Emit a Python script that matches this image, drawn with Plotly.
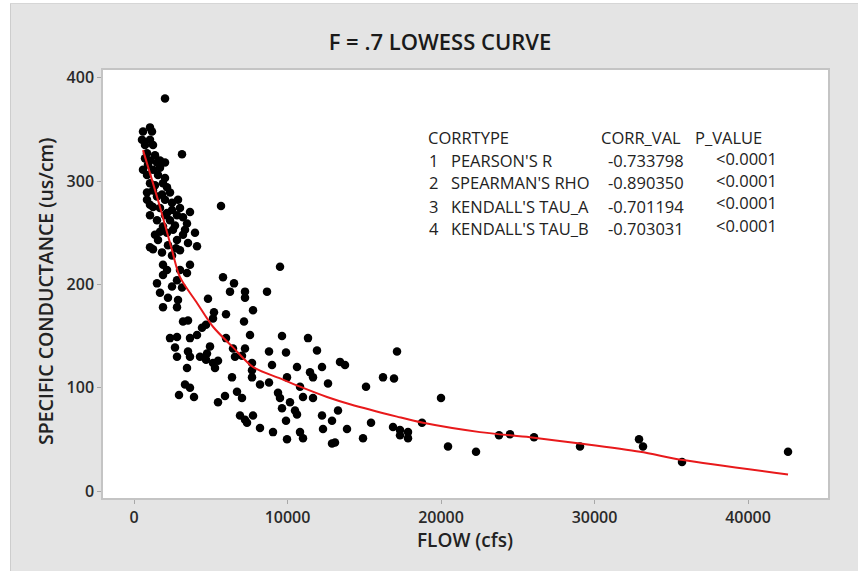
import plotly.graph_objects as go

# ---- scatter data: FLOW (cfs) vs SPECIFIC CONDUCTANCE (us/cm) ----
flow = [
    2020, 1042, 586, 1173, 521, 1042, 1238, 3127, 847, 1042, 1694, 2020, 586, 1238, 847, 1564,
    2020, 1042, 2150, 1238, 2345, 847, 1498, 847, 2020, 2867, 2476, 1238, 1694, 2997, 5668, 1042,
    2150, 2801, 3192, 1498, 2345, 3453, 1889, 2541, 1368, 2150, 3974, 1564, 2801, 3518, 1042, 1238,
    1824, 2476, 4104,
    717, 1368, 912, 1694, 1368, 1824, 1042, 2020, 2671, 1694, 2215, 2997, 3323, 3648, 717, 1498,
    1889, 2476, 3192, 2736,
    3648, 1889, 2150, 1889, 2997, 3453, 2801, 1498, 2476, 3127, 1694, 2215, 2867, 1889, 2801, 5798,
    6515, 6254, 7232, 7232, 8665, 9512, 4821, 7753, 5994, 5212, 5147, 4691, 4430, 7167, 3192, 3518,
    2345, 2801, 3648, 4104, 2671, 4951, 5994, 7557, 9642, 11336, 2801, 3518, 3648, 4300, 4756, 4691,
    5147, 5473, 5277, 6450, 7232, 6580, 7036, 8795, 9903, 11922, 3453, 7688, 7688, 8991, 10619, 12248,
    13421, 13747, 11466, 11662, 9968, 7688, 6385, 12639, 8209, 8795, 10815, 3323, 3648, 2932, 3909, 5929,
    6710, 7036, 5473, 9382, 9512, 9642, 10163, 10489, 10619, 11010, 11662, 12248, 12900, 13291, 13877, 6906,
    7232, 7362, 7753, 8209, 9056, 9903, 9968, 10815, 11010, 12900, 13095, 17134, 16222, 16939, 15115, 15441,
    16874, 17330, 17851, 17330, 17851, 14919, 20001, 18763, 20457, 22281, 23780, 24496, 26060, 29057, 12313,
    32901, 33161, 35702, 42608,
]
conductance = [
    380, 352, 348, 348, 340, 340, 335, 326, 327, 320, 320, 318, 311, 311, 306, 306,
    303, 298, 294, 291, 289, 289, 285, 282, 282, 282, 279, 275, 274, 274, 276, 267,
    269, 267, 265, 262, 262, 259, 256, 253, 248, 250, 250, 243, 243, 240, 236, 234,
    231, 228, 237,
    335, 325, 316, 313, 296, 287, 277, 267, 257, 251, 238, 233, 253, 270, 322, 318,
    298, 272, 248, 235,
    219, 219, 214, 209, 214, 211, 204, 201, 198, 197, 192, 187, 185, 178, 178, 207,
    201, 193, 193, 187, 193, 217, 186, 175, 171, 173, 167, 161, 158, 164, 164, 165,
    148, 149, 148, 151, 139, 140, 148, 151, 150, 148, 130, 135, 130, 130, 133, 127,
    124, 126, 119, 138, 138, 130, 131, 135, 134, 136, 119, 124, 117, 122, 120, 120,
    125, 122, 115, 110, 110, 110, 110, 104, 103, 105, 101, 103, 100, 93, 91, 92,
    96, 90, 86, 95, 90, 80, 86, 78, 74, 91, 90, 73, 68, 78, 60, 73,
    69, 66, 73, 61, 57, 68, 50, 57, 51, 46, 47, 135, 110, 109, 101, 66,
    62, 59, 57, 54, 51, 51, 90, 66, 43, 38, 54, 55, 52, 43, 60,
    50, 43, 28, 38,
]

# ---- LOWESS curve (f = 0.7) ----
lowess_flow = [586, 1694, 2476, 2997, 4104, 5147, 6450, 7753, 9512, 10815, 12574, 14072,
               17134, 18828, 22542, 25799, 29057, 32966, 35767, 42608]
lowess_cond = [330, 275, 233, 207, 182, 159, 139, 120, 109, 101, 91, 84,
               72, 66, 57, 52, 46, 38, 30, 16]

# ---- correlation table ----
corr_index = ["1", "2", "3", "4"]
corr_types = ["PEARSON'S R", "SPEARMAN'S RHO", "KENDALL'S TAU_A", "KENDALL'S TAU_B"]
corr_vals = ["-0.733798", "-0.890350", "-0.701194", "-0.703031"]
p_values = ["<0.0001", "<0.0001", "<0.0001", "<0.0001"]

x_ticks = [0, 10000, 20000, 30000, 40000]
y_ticks = [0, 100, 200, 300, 400]

FONT = "Segoe UI, Open Sans, sans-serif"
TXT = "#222222"

fig = go.Figure()
fig.add_trace(go.Scatter(
    x=flow, y=conductance, mode="markers",
    marker=dict(color="black", size=8.5, line=dict(width=0)),
    showlegend=False, hoverinfo="x+y",
))
fig.add_trace(go.Scatter(
    x=lowess_flow, y=lowess_cond, mode="lines",
    line=dict(color="#e8191b", width=2, shape="spline", smoothing=0.8),
    showlegend=False,
))

L, R, T, B = 103, 30, 70, 73
PW, PH = 858 - L - R, 571 - T - B

def px_to_paper_x(px):
    return (px - L) / PW

def px_to_paper_y(py):
    return (571 - B - py) / PH

annotations = []
# table header
annotations.append(dict(text="CORRTYPE", x=px_to_paper_x(426), y=px_to_paper_y(137),
                        xanchor="left", yanchor="middle"))
annotations.append(dict(text="CORR_VAL", x=px_to_paper_x(599), y=px_to_paper_y(137),
                        xanchor="left", yanchor="middle"))
annotations.append(dict(text="P_VALUE", x=px_to_paper_x(693), y=px_to_paper_y(137),
                        xanchor="left", yanchor="middle"))
row_y = [160, 183, 206, 228]
p_y = [158, 180, 203, 225]
for i in range(4):
    annotations.append(dict(text=corr_index[i], x=px_to_paper_x(427), y=px_to_paper_y(row_y[i]),
                            xanchor="left", yanchor="middle"))
    annotations.append(dict(text=corr_types[i], x=px_to_paper_x(449), y=px_to_paper_y(row_y[i]),
                            xanchor="left", yanchor="middle"))
    annotations.append(dict(text=corr_vals[i], x=px_to_paper_x(686), y=px_to_paper_y(row_y[i]),
                            xanchor="right", yanchor="middle"))
    annotations.append(dict(text=p_values[i], x=px_to_paper_x(779), y=px_to_paper_y(p_y[i]),
                            xanchor="right", yanchor="middle"))
for a in annotations:
    a.update(xref="paper", yref="paper", showarrow=False,
             font=dict(family=FONT, size=16.5, color=TXT))

# axis titles
annotations.append(dict(text="FLOW (cfs)", x=px_to_paper_x(465), y=px_to_paper_y(540),
                        xref="paper", yref="paper", showarrow=False,
                        xanchor="center", yanchor="middle",
                        font=dict(family=FONT, size=19, color=TXT, weight=600)))
annotations.append(dict(text="SPECIFIC CONDUCTANCE (us/cm)", x=px_to_paper_x(45), y=px_to_paper_y(292),
                        xref="paper", yref="paper", showarrow=False, textangle=-90,
                        xanchor="center", yanchor="middle",
                        font=dict(family=FONT, size=19.5, color=TXT, weight=600)))

shapes = [
    # white strips outside the grey chart frame
    dict(type="rect", xref="paper", yref="paper",
         x0=px_to_paper_x(0), x1=px_to_paper_x(10), y0=px_to_paper_y(571), y1=px_to_paper_y(0),
         fillcolor="white", line=dict(width=0), layer="below"),
    dict(type="rect", xref="paper", yref="paper",
         x0=px_to_paper_x(0), x1=px_to_paper_x(858), y0=px_to_paper_y(3), y1=px_to_paper_y(0),
         fillcolor="white", line=dict(width=0), layer="below"),
    dict(type="line", xref="paper", yref="paper",
         x0=px_to_paper_x(10.5), x1=px_to_paper_x(10.5), y0=px_to_paper_y(571), y1=px_to_paper_y(3),
         line=dict(color="#cdcdcd", width=1), layer="below"),
    dict(type="line", xref="paper", yref="paper",
         x0=px_to_paper_x(10), x1=px_to_paper_x(858), y0=px_to_paper_y(3.5), y1=px_to_paper_y(3.5),
         line=dict(color="#d6d6d6", width=1), layer="below"),
]

x_min = (L - 134) / 15.35 * 1000
x_max = (858 - R - 134) / 15.35 * 1000
y_max = (491 - T) / 1.033
y_min = (491 - (571 - B)) / 1.033

axis_common = dict(
    showgrid=False, zeroline=False, showline=True, mirror=True,
    linecolor="#c4c4c4", linewidth=1.5,
    ticks="outside", ticklen=4, tickwidth=1, tickcolor="#a8a8a8",
    tickfont=dict(family=FONT, size=16, color="#2a2a2a", weight=600),
)

fig.update_layout(
    width=858, height=571,
    margin=dict(l=L, r=R, t=T, b=B, autoexpand=False),
    paper_bgcolor="#e4e4e4", plot_bgcolor="white",
    title=dict(text="F = .7 LOWESS CURVE", x=440 / 858, xref="container", xanchor="center",
               y=1 - 42 / 571, yref="container", yanchor="middle",
               font=dict(family=FONT, size=22, color="#1a1a1a", weight=600)),
    xaxis=dict(range=[x_min, x_max], tickvals=x_ticks, ticktext=[str(v) for v in x_ticks],
               **axis_common),
    yaxis=dict(range=[y_min, y_max], tickvals=y_ticks, ticktext=[str(v) for v in y_ticks],
               **axis_common),
    annotations=annotations,
    shapes=shapes,
    showlegend=False,
)

fig.write_html("out.html")
